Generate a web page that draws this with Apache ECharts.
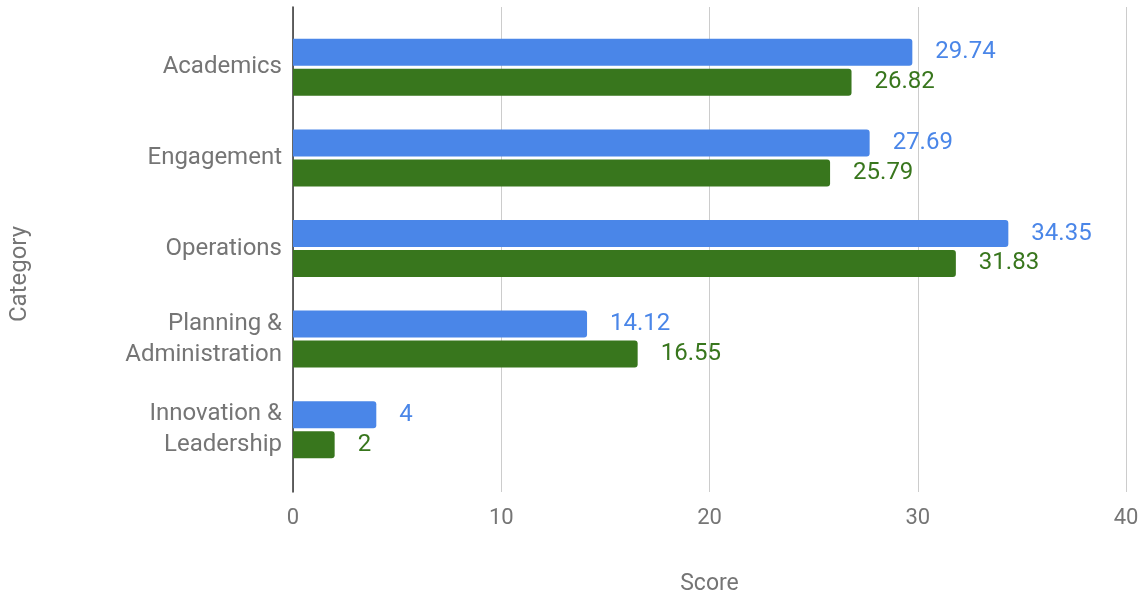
<!DOCTYPE html>
<html>
<head>
<meta charset="utf-8">
<script src="https://cdn.jsdelivr.net/npm/echarts@6/dist/echarts.min.js"></script>
<style>
  html, body { margin: 0; padding: 0; background: #fff; }
  #main { width: 1147px; height: 597px; }
</style>
</head>
<body>
<div id="main"></div>
<script>
// 数据
var categories = ['Academics', 'Engagement', 'Operations', 'Planning &\nAdministration', 'Innovation &\nLeadership'];
var blueValues = [29.74, 27.69, 34.35, 14.12, 4];
var greenValues = [26.82, 25.79, 31.83, 16.55, 2];
var xTicks = [0, 10, 20, 30, 40];

var blue = '#4a86e8';
var green = '#38761d';
var grey = '#757575';
var font = 'Roboto';

var chart = echarts.init(document.getElementById('main'));

function barSeries(name, data, color) {
  return {
    name: name,
    type: 'bar',
    xAxisIndex: 1,
    yAxisIndex: 1,
    data: data,
    barWidth: 27,
    barGap: '11%',
    itemStyle: { color: color, borderRadius: [0, 3, 3, 0] },
    label: {
      show: true,
      position: 'right',
      distance: 23,
      color: color,
      fontFamily: font,
      fontSize: 24
    }
  };
}

var option = {
  animation: false,
  // 两个 grid: 一个画框线和刻度, 一个画柱子
  grid: [
    { left: 293, right: 21, top: 7, bottom: 105, outerBoundsMode: 'none' },
    { left: 293, right: 21, top: 22, bottom: 122, outerBoundsMode: 'none' }
  ],
  xAxis: [
    {
      type: 'value',
      gridIndex: 0,
      min: xTicks[0],
      max: xTicks[xTicks.length - 1],
      interval: 10,
      name: 'Score',
      nameLocation: 'middle',
      nameGap: 81,
      nameTextStyle: { color: grey, fontFamily: font, fontSize: 23 },
      axisLine: { show: false },
      axisTick: { show: false },
      axisLabel: { color: grey, fontFamily: font, fontSize: 22, margin: 15 },
      splitLine: { lineStyle: { color: '#cccccc', width: 1 } }
    },
    {
      type: 'value',
      gridIndex: 1,
      min: xTicks[0],
      max: xTicks[xTicks.length - 1],
      show: false
    }
  ],
  yAxis: [
    {
      type: 'value',
      gridIndex: 0,
      min: 0,
      max: 1,
      axisLine: { show: true, lineStyle: { color: '#333', width: 1.5 } },
      axisTick: { show: false },
      axisLabel: { show: false },
      splitLine: { show: false }
    },
    {
      type: 'category',
      gridIndex: 1,
      inverse: true,
      data: categories,
      axisLine: { show: false },
      axisTick: { show: false },
      axisLabel: { color: grey, fontFamily: font, fontSize: 24, lineHeight: 31, margin: 11, padding: [8, 0, 0, 0] }
    }
  ],
  graphic: [
    {
      type: 'text',
      x: 20,
      y: 274,
      rotation: Math.PI / 2,
      style: {
        text: 'Category',
        fill: grey,
        font: '24px Roboto',
        align: 'center',
        verticalAlign: 'middle'
      }
    }
  ],
  series: [
    barSeries('Series 1', blueValues, blue),
    barSeries('Series 2', greenValues, green)
  ]
};

chart.setOption(option);
</script>
</body>
</html>
